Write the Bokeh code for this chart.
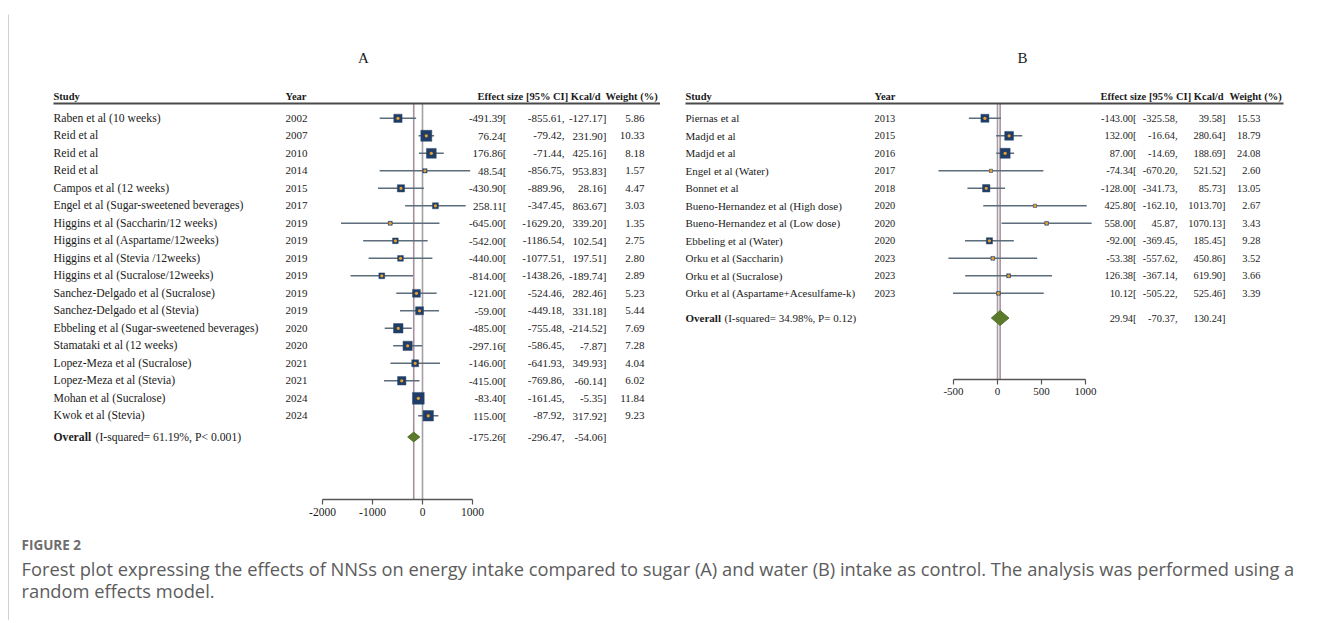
import numpy as np
from bokeh.plotting import figure
from bokeh.models import ColumnDataSource, Range1d, LinearAxis, FixedTicker
from bokeh.layouts import column, row
from bokeh.core.properties import value
from bokeh.embed import file_html
from bokeh.resources import INLINE

# ---------------- data: panel A (sugar control) ----------------
studies_A = ["Raben et al (10 weeks)", "Reid et al", "Reid et al", "Reid et al",
             "Campos et al (12 weeks)", "Engel et al (Sugar-sweetened beverages)",
             "Higgins et al (Saccharin/12 weeks)", "Higgins et al (Aspartame/12weeks)",
             "Higgins et al (Stevia /12weeks)", "Higgins et al (Sucralose/12weeks)",
             "Sanchez-Delgado et al (Sucralose)", "Sanchez-Delgado et al (Stevia)",
             "Ebbeling et al (Sugar-sweetened beverages)", "Stamataki et al (12 weeks)",
             "Lopez-Meza et al (Sucralose)", "Lopez-Meza et al (Stevia)",
             "Mohan et al (Sucralose)", "Kwok et al (Stevia)"]
years_A = [2002, 2007, 2010, 2014, 2015, 2017, 2019, 2019, 2019, 2019, 2019, 2019,
           2020, 2020, 2021, 2021, 2024, 2024]
es_A = [-491.39, 76.24, 176.86, 48.54, -430.90, 258.11, -645.00, -542.00, -440.00,
        -814.00, -121.00, -59.00, -485.00, -297.16, -146.00, -415.00, -83.40, 115.00]
lo_A = [-855.61, -79.42, -71.44, -856.75, -889.96, -347.45, -1629.20, -1186.54,
        -1077.51, -1438.26, -524.46, -449.18, -755.48, -586.45, -641.93, -769.86,
        -161.45, -87.92]
hi_A = [-127.17, 231.90, 425.16, 953.83, 28.16, 863.67, 339.20, 102.54, 197.51,
        -189.74, 282.46, 331.18, -214.52, -7.87, 349.93, -60.14, -5.35, 317.92]
w_A = [5.86, 10.33, 8.18, 1.57, 4.47, 3.03, 1.35, 2.75, 2.80, 2.89, 5.23, 5.44,
       7.69, 7.28, 4.04, 6.02, 11.84, 9.23]
overall_A = [-175.26, -296.47, -54.06]
stats_A = "(I-squared= 61.19%, P< 0.001)"
ticks_A = [-2000, -1000, 0, 1000]

# ---------------- data: panel B (water control) ----------------
studies_B = ["Piernas et al", "Madjd et al", "Madjd et al", "Engel et al (Water)",
             "Bonnet et al", "Bueno-Hernandez et al (High dose)",
             "Bueno-Hernandez et al (Low dose)", "Ebbeling et al (Water)",
             "Orku et al (Saccharin)", "Orku et al (Sucralose)",
             "Orku et al (Aspartame+Acesulfame-k)"]
years_B = [2013, 2015, 2016, 2017, 2018, 2020, 2020, 2020, 2023, 2023, 2023]
es_B = [-143.00, 132.00, 87.00, -74.34, -128.00, 425.80, 558.00, -92.00, -53.38,
        126.38, 10.12]
lo_B = [-325.58, -16.64, -14.69, -670.20, -341.73, -162.10, 45.87, -369.45,
        -557.62, -367.14, -505.22]
hi_B = [39.58, 280.64, 188.69, 521.52, 85.73, 1013.70, 1070.13, 185.45, 450.86,
        619.90, 525.46]
w_B = [15.53, 18.79, 24.08, 2.60, 13.05, 2.67, 3.43, 9.28, 3.52, 3.66, 3.39]
overall_B = [29.94, -70.37, 130.24]
stats_B = "(I-squared= 34.98%, P= 0.12)"
ticks_B = [-500, 0, 500, 1000]

headers = ["Study", "Year", "Effect size [95% CI] Kcal/d", "Weight (%)"]
caption_head = "FIGURE 2"
caption_lines = [
    "Forest plot expressing the effects of NNSs on energy intake compared to sugar (A) and water (B) intake as control. The analysis was performed using a",
    "random effects model.",
]

# ---------------- layout (window pixel positions) ----------------
SERIF = value("Liberation Serif")
SANS = value("Open Sans")
ROW0, ROWH, TOP = 117.8, 17.5, 14
PANEL_H = 513
BOTTOM_BORDER = 28
CAP_H = 93
TXT = "#1b1b1b"
RULE_TOP = "#b9b9b9"
RULE_LEFT = "#a3a3a3"


def blank(width, height, fill="white"):
    f = figure(width=width, height=height, x_range=Range1d(0, width),
               y_range=Range1d(height, 0), x_axis_type=None, y_axis_type=None,
               toolbar_location=None, output_backend="svg", min_border=0)
    f.outline_line_color = None
    f.background_fill_color = fill
    f.border_fill_color = fill
    return f


def wy(y):
    return (y - ROW0) / ROWH


def panel(title, studies, years, es, lo, hi, w, ov, stats, ticks, L):
    left, width, zero, s = L["left"], L["width"], L["zero"], L["scale"]
    frame_h = L["axis_y"] - TOP

    def wx(x):
        return (x - zero) / s

    p = figure(width=width, height=frame_h + BOTTOM_BORDER,
               x_range=Range1d(wx(left), wx(left + width)),
               y_range=Range1d(wy(L["axis_y"]), wy(TOP)),
               x_axis_type=None, y_axis_type=None, toolbar_location=None,
               output_backend="svg", min_border_left=0, min_border_right=0,
               min_border_top=0, min_border_bottom=BOTTOM_BORDER)
    p.outline_line_color = None
    p.background_fill_color = "white"
    p.border_fill_color = "white"

    n = len(studies)
    src = ColumnDataSource(dict(
        y=list(range(n)), study=studies, year=[str(v) for v in years],
        es=es, lo=lo, hi=hi,
        es_t=[f"{v:.2f}[" for v in es], lo_t=[f"{v:.2f}," for v in lo],
        hi_t=[f"{v:.2f}]" for v in hi], w_t=[f"{v:.2f}" for v in w],
        size=[L["box"] * np.sqrt(v) for v in w]))

    # reference lines (zero and overall effect)
    y_top, y_bot = wy(L["ul_y"]), wy(L["axis_y"])
    p.segment(x0=[0], y0=[y_top], x1=[0], y1=[y_bot], line_color="#a49ea6", line_width=1.6)
    p.segment(x0=[ov[0]], y0=[y_top], x1=[ov[0]], y1=[y_bot], line_color="#a8919d", line_width=1.6)

    # confidence intervals, boxes, point estimates
    p.segment(x0="lo", y0="y", x1="hi", y1="y", source=src, line_color="#5d6d7b", line_width=1.5)
    p.scatter(x="es", y="y", size="size", marker="square", source=src,
              fill_color="#1f3d66", line_color="#2c4a70", line_width=0.5)
    p.scatter(x="es", y="y", size=3.2, marker="circle", source=src,
              fill_color="#e8a031", line_color=None)

    # overall diamond
    yo, h = wy(L["ov_y"]), L["dia_h"]
    p.patches(xs=[[ov[1], ov[0], ov[2], ov[0]]], ys=[[yo, yo - h, yo, yo + h]],
              fill_color="#5b7a2b", line_color="#55732a", line_width=1)

    # header
    yh = wy(96)
    p.segment(x0=[wx(L["study_x"])], y0=[wy(103)], x1=[wx(L["ul_end"])], y1=[wy(103)],
              line_color="#4a4a4a", line_width=2)
    hx = [wx(L["study_x"]), wx(L["year_x"]), wx(L["es_hdr"]), wx(L["w_hdr"])]
    p.text(x=hx, y=[yh] * 4, text=headers, text_align="left", text_baseline="middle",
           text_font=SERIF, text_font_size="10.5px", text_font_style="bold", text_color=TXT)
    p.text(x=[wx(L["title_x"])], y=[wy(L["title_y"])], text=[title], text_align="center",
           text_baseline="middle", text_font=SERIF, text_font_size="15px", text_color=TXT)

    fs_name, fs_num = L["fs_name"], L["fs_num"]
    base = dict(source=src, text_baseline="middle", text_font=SERIF, text_color=TXT)
    p.text(x=wx(L["study_x"]), y="y", text="study", text_align="left",
           text_font_size=fs_name, **base)
    p.text(x=wx(L["year_x"]), y="y", text="year", text_align="left",
           text_font_size=fs_num, **base)
    for col, key in (("es_t", "es_r"), ("lo_t", "lo_r"), ("hi_t", "hi_r"), ("w_t", "w_r")):
        p.text(x=wx(L[key]), y="y", text=col, text_align="right",
               text_font_size=fs_num, **base)

    # overall row text
    ovc = dict(y=[yo], text_baseline="middle", text_font=SERIF, text_color=TXT)
    p.text(x=[wx(L["study_x"])], text=["Overall"], text_align="left",
           text_font_style="bold", text_font_size=fs_name, **ovc)
    p.text(x=[wx(L["study_x"] + L["ov_gap"])], text=[stats], text_align="left",
           text_font_size=fs_name, **ovc)
    p.text(x=[wx(L["es_r"])], text=[f"{ov[0]:.2f}["], text_align="right",
           text_font_size=fs_num, **ovc)
    p.text(x=[wx(L["lo_r"])], text=[f"{ov[1]:.2f},"], text_align="right",
           text_font_size=fs_num, **ovc)
    p.text(x=[wx(L["hi_r"])], text=[f"{ov[2]:.2f}]"], text_align="right",
           text_font_size=fs_num, **ovc)

    # x axis
    ax = LinearAxis(ticker=FixedTicker(ticks=ticks), bounds=(ticks[0], ticks[-1]))
    ax.major_label_overrides = {t: str(t) for t in ticks}
    ax.axis_line_color = "#555555"
    ax.axis_line_width = 1.5
    ax.major_tick_line_color = "#555555"
    ax.major_tick_line_width = 1.2
    ax.major_tick_in = 0
    ax.major_tick_out = 5
    ax.minor_tick_line_color = None
    ax.major_label_standoff = 3
    ax.major_label_text_font = "Liberation Serif"
    ax.major_label_text_font_size = L["fs_axis"]
    ax.major_label_text_color = TXT
    p.add_layout(ax, "below")
    return p


LA = dict(left=9, width=651, zero=422, scale=0.05, axis_y=499, ul_y=103,
          study_x=53, year_x=285, es_hdr=477, w_hdr=605, ul_end=661,
          es_r=506, lo_r=564, hi_r=606, w_r=644, title_x=363, title_y=57,
          ov_y=436.5, dia_h=0.28, box=3.42, fs_name="11.7px", fs_num="11px",
          fs_axis="11.5px", ov_gap=42)
LB = dict(left=660, width=660, zero=997, scale=0.088, axis_y=379, ul_y=103,
          study_x=685, year_x=874, es_hdr=1100, w_hdr=1229, ul_end=1283,
          es_r=1136, lo_r=1177, hi_r=1225, w_r=1260, title_x=1022, title_y=57,
          ov_y=317.5, dia_h=0.43, box=2.04, fs_name="11px", fs_num="10.4px",
          fs_axis="11px", ov_gap=39)

pA = panel("A", studies_A, years_A, es_A, lo_A, hi_A, w_A, overall_A, stats_A, ticks_A, LA)
pB = panel("B", studies_B, years_B, es_B, lo_B, hi_B, w_B, overall_B, stats_B, ticks_B, LB)
padB = blank(660, PANEL_H - pB.height)

# caption
pc = blank(1311, CAP_H)
pc.text(x=[12], y=[17], text=[caption_head], text_align="left", text_baseline="middle",
        text_font=SANS, text_font_size="13.5px", text_font_style="bold", text_color="#6e6e6e")
pc.text(x=[12, 12], y=[41, 63], text=caption_lines, text_align="left", text_baseline="middle",
        text_font=SANS, text_font_size="18.3px", text_color="#5c5c5c")

# frame rules (top and left) around the figure block
top_space = blank(1320, 12)
top_rule = row(blank(8, 2), blank(1312, 2, fill=RULE_TOP))
body_h = PANEL_H + CAP_H
body = row(blank(8, body_h), blank(1, body_h, fill=RULE_LEFT),
           column(row(pA, column(pB, padB)), pc))

layout = column(top_space, top_rule, body)

open("out.html", "w").write(file_html(layout, INLINE))
